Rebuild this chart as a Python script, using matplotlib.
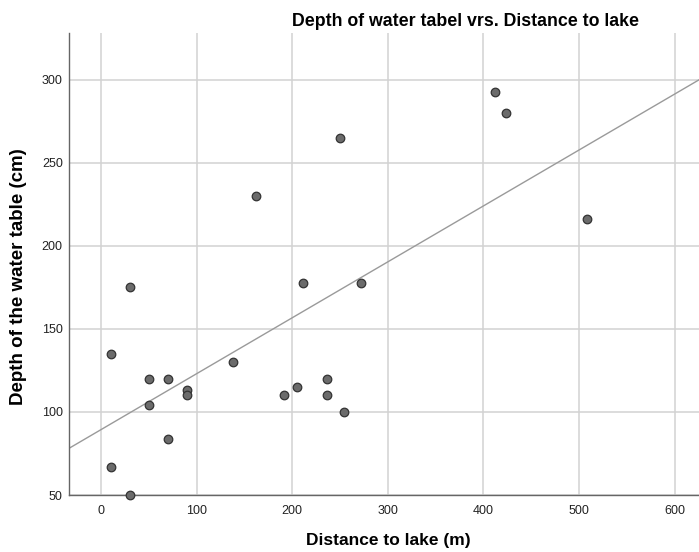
import numpy as np
import matplotlib
matplotlib.use("Agg")
import matplotlib.pyplot as plt

# ===================== data =====================
distance = [412, 424, 508, 250, 162, 211, 272, 30, 10, 50, 70, 90,
            90, 50, 138, 191, 205, 236, 236, 254, 70, 10, 30]
depth = [293, 280, 216, 265, 230, 178, 178, 175, 135, 120, 120, 113,
         110, 104, 130, 110, 115, 120, 110, 100, 84, 67, 50]
x_ticks = [0, 100, 200, 300, 400, 500, 600]
y_ticks = [50, 100, 150, 200, 250, 300]

plt.rcParams['font.family'] = ['Liberation Sans', 'DejaVu Sans']

W, H = 699, 552
fig = plt.figure(figsize=(W / 100, H / 100), dpi=100)
ax = fig.add_axes([69 / W, 57 / H, 630 / W, 462 / H])

xlim = (-33.5, 625.5)
ax.set_xlim(*xlim)
ax.set_ylim(50, 328.3)

# grid
ax.set_xticks(x_ticks)
ax.set_yticks(y_ticks)
ax.grid(True, color="#d2d2d2", linewidth=1.1)
ax.set_axisbelow(True)

# linear fit line
slope, intercept = np.polyfit(distance, depth, 1)
xs = np.array(xlim)
ax.plot(xs, slope * xs + intercept, color="#9a9a9a", linewidth=1.0, zorder=2)

ax.scatter(distance, depth, s=38, facecolor="#6b6b6b", edgecolor="#333333",
           linewidth=0.9, zorder=3, clip_on=False)

# spines / ticks
for s in ["top", "right"]:
    ax.spines[s].set_visible(False)
for s in ["left", "bottom"]:
    ax.spines[s].set_color("#666666")
    ax.spines[s].set_linewidth(1.0)
ax.tick_params(length=0, labelsize=9, labelcolor="#222222")
ax.tick_params(axis="x", pad=7)
ax.tick_params(axis="y", pad=4.5)

ax.set_xlabel("Distance to lake (m)", fontsize=12.5, fontweight="bold")
ax.set_ylabel("Depth of the water table (cm)", fontsize=13.5, fontweight="bold")

# label centres in axes coords (from pixel positions, top-down)
ax.xaxis.set_label_coords((388 - 69) / 630, ((H - 541) - 57) / 462)
ax.yaxis.set_label_coords((19 - 69) / 630, ((H - 277) - 57) / 462)
ax.xaxis.label.set_va("center")
ax.yaxis.label.set_va("center")

fig.text(466 / W, 1 - 22 / H, "Depth of water tabel vrs. Distance to lake",
         ha="center", va="center", fontsize=12.8, fontweight="bold")

fig.savefig("out.png", dpi=100)
